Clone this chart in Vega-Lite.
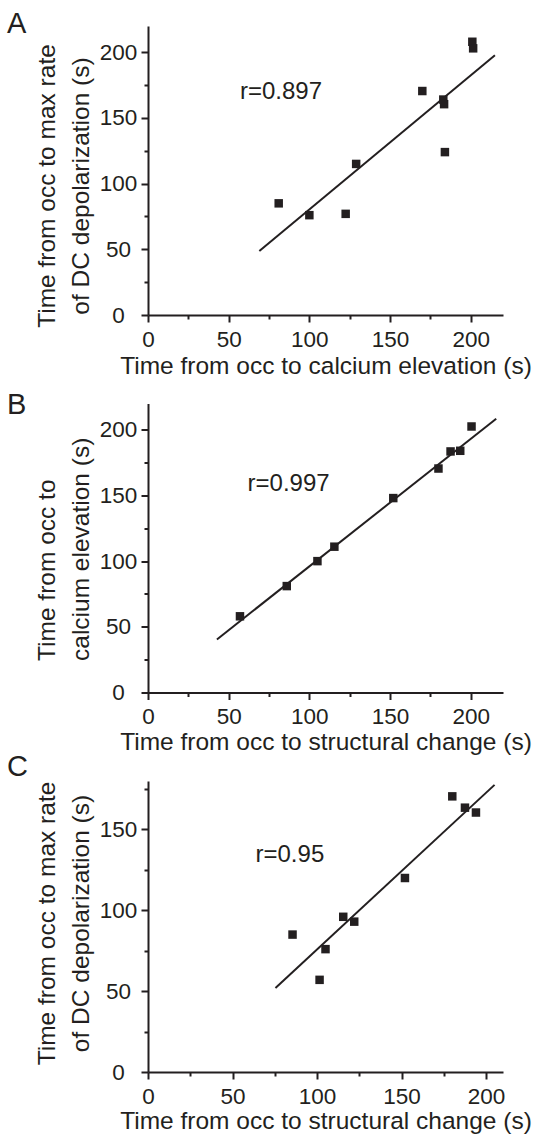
{
  "$schema": "https://vega.github.io/schema/vega-lite/v6.json",
  "background": "white",
  "padding": {"left": 7, "top": 9, "right": 2, "bottom": 2},
  "spacing": 88.5,
  "bounds": "flush",
  "config": {
    "view": {"stroke": null},
    "font": "Liberation Sans",
    "axis": {
      "grid": false,
      "domainColor": "#231f20",
      "domainWidth": 2,
      "tickColor": "#231f20",
      "tickWidth": 2,
      "labelFont": "Liberation Sans",
      "labelFontSize": 22.5,
      "labelColor": "#231f20",
      "titleFont": "Liberation Sans",
      "titleFontSize": 24.5,
      "titleFontWeight": "normal",
      "titleColor": "#231f20",
      "labelOverlap": false,
      "labelFlush": false
    },
    "axisX": {"labelPadding": 6, "labelAlign": "center", "labelBaseline": "top"},
    "axisY": {"labelAlign": "center", "labelBaseline": "middle", "labelPadding": 23, "titleLineHeight": 34, "titleAngle": -90, "titleBaseline": "bottom"},
    "title": {"font": "Liberation Sans", "fontSize": 29, "fontWeight": "normal", "color": "#231f20", "anchor": "start", "frame": "group", "baseline": "alphabetic", "offset": 0, "dx": -141}
  },
  "datasets": {
    "A_points": [
      {"x": 81, "y": 85}, {"x": 100, "y": 76}, {"x": 122.5, "y": 77}, {"x": 129, "y": 115},
      {"x": 170, "y": 170.5}, {"x": 183, "y": 164}, {"x": 183.5, "y": 160.5}, {"x": 184, "y": 124},
      {"x": 201, "y": 208}, {"x": 201.5, "y": 203}
    ],
    "A_fit": [{"x": 69, "y": 48.8}, {"x": 215, "y": 197.7}],
    "A_note": [{"x": 57, "y": 164.6, "label": "r=0.897"}],
    "B_points": [
      {"x": 57, "y": 58}, {"x": 86, "y": 81}, {"x": 105, "y": 100}, {"x": 115.5, "y": 111},
      {"x": 152, "y": 148}, {"x": 180, "y": 170.5}, {"x": 187.5, "y": 183.5}, {"x": 193.5, "y": 184},
      {"x": 200.5, "y": 202.5}
    ],
    "B_fit": [{"x": 42.7, "y": 40.4}, {"x": 215.8, "y": 208.4}],
    "B_note": [{"x": 61.7, "y": 153.7, "label": "r=0.997"}],
    "C_points": [
      {"x": 85.5, "y": 85}, {"x": 101.5, "y": 57}, {"x": 105, "y": 76}, {"x": 115.5, "y": 96},
      {"x": 122, "y": 93}, {"x": 152, "y": 120}, {"x": 180, "y": 170.5}, {"x": 187.5, "y": 163.5},
      {"x": 194, "y": 160.5}
    ],
    "C_fit": [{"x": 75.4, "y": 52}, {"x": 205, "y": 177.6}],
    "C_note": [{"x": 63.6, "y": 129.6, "label": "r=0.95"}]
  },
  "vconcat": [
    {
      "title": {"text": "A", "dy": 16.8},
      "width": 355,
      "height": 289,
      "encoding": {
        "x": {"field": "x", "type": "quantitative", "scale": {"domain": [0, 220], "nice": false},
          "axis": {"title": "Time from occ to calcium elevation (s)", "values": [0, 25, 50, 75, 100, 125, 150, 175, 200],
            "labelExpr": "datum.value % 50 === 0 ? datum.label : ''",
            "tickSize": {"condition": {"test": "datum.value % 50 !== 0", "value": 4}, "value": 7},
            "titlePadding": 4}},
        "y": {"field": "y", "type": "quantitative", "scale": {"domain": [0, 220], "nice": false},
          "axis": {"title": ["Time from occ to max rate", "of DC depolarization (s)"], "values": [0, 25, 50, 75, 100, 125, 150, 175, 200],
            "labelExpr": "datum.value % 50 === 0 ? datum.label : ''",
            "tickSize": {"condition": {"test": "datum.value % 50 !== 0", "value": 4}, "value": 7},
            "titleX": -88.4, "titleY": 159.5, "titleAlign": "center"}}
      },
      "layer": [
        {"data": {"name": "A_points"}, "mark": {"type": "square", "size": 72, "color": "#231f20", "opacity": 1}},
        {"data": {"name": "A_fit"}, "mark": {"type": "line", "color": "#231f20", "strokeWidth": 2}},
        {"data": {"name": "A_note"}, "mark": {"type": "text", "align": "left", "baseline": "alphabetic", "fontSize": 24, "font": "Liberation Sans", "color": "#231f20"},
          "encoding": {"text": {"field": "label"}}}
      ]
    },
    {
      "title": {"text": "B", "dy": 20.6},
      "width": 355,
      "height": 289,
      "encoding": {
        "x": {"field": "x", "type": "quantitative", "scale": {"domain": [0, 220], "nice": false},
          "axis": {"title": "Time from occ to structural change (s)", "values": [0, 25, 50, 75, 100, 125, 150, 175, 200],
            "labelExpr": "datum.value % 50 === 0 ? datum.label : ''",
            "tickSize": {"condition": {"test": "datum.value % 50 !== 0", "value": 4}, "value": 7},
            "titlePadding": 2}},
        "y": {"field": "y", "type": "quantitative", "scale": {"domain": [0, 220], "nice": false},
          "axis": {"title": ["Time from occ to", "calcium elevation (s)"], "values": [0, 25, 50, 75, 100, 125, 150, 175, 200],
            "labelExpr": "datum.value % 50 === 0 ? datum.label : ''",
            "tickSize": {"condition": {"test": "datum.value % 50 !== 0", "value": 4}, "value": 7},
            "titleX": -88.4, "titleY": 257, "titleAlign": "left"}}
      },
      "layer": [
        {"data": {"name": "B_points"}, "mark": {"type": "square", "size": 72, "color": "#231f20", "opacity": 1}},
        {"data": {"name": "B_fit"}, "mark": {"type": "line", "color": "#231f20", "strokeWidth": 2}},
        {"data": {"name": "B_note"}, "mark": {"type": "text", "align": "left", "baseline": "alphabetic", "fontSize": 24, "font": "Liberation Sans", "color": "#231f20"},
          "encoding": {"text": {"field": "label"}}}
      ]
    },
    {
      "title": {"text": "C", "dy": 8.1},
      "width": 355,
      "height": 291,
      "encoding": {
        "x": {"field": "x", "type": "quantitative", "scale": {"domain": [0, 210], "nice": false},
          "axis": {"title": "Time from occ to structural change (s)", "values": [0, 25, 50, 75, 100, 125, 150, 175, 200],
            "labelExpr": "datum.value % 50 === 0 ? datum.label : ''",
            "tickSize": {"condition": {"test": "datum.value % 50 !== 0", "value": 4}, "value": 7},
            "titlePadding": 2}},
        "y": {"field": "y", "type": "quantitative", "scale": {"domain": [0, 180], "nice": false},
          "axis": {"title": ["Time from occ to max rate", "of DC depolarization (s)"], "values": [0, 25, 50, 75, 100, 125, 150, 175],
            "labelExpr": "datum.value % 50 === 0 ? datum.label : ''",
            "tickSize": {"condition": {"test": "datum.value % 50 !== 0", "value": 4}, "value": 7},
            "titleX": -88.4, "titleY": 142, "titleAlign": "center"}}
      },
      "layer": [
        {"data": {"name": "C_points"}, "mark": {"type": "square", "size": 72, "color": "#231f20", "opacity": 1}},
        {"data": {"name": "C_fit"}, "mark": {"type": "line", "color": "#231f20", "strokeWidth": 2}},
        {"data": {"name": "C_note"}, "mark": {"type": "text", "align": "left", "baseline": "alphabetic", "fontSize": 24, "font": "Liberation Sans", "color": "#231f20"},
          "encoding": {"text": {"field": "label"}}}
      ]
    }
  ]
}
